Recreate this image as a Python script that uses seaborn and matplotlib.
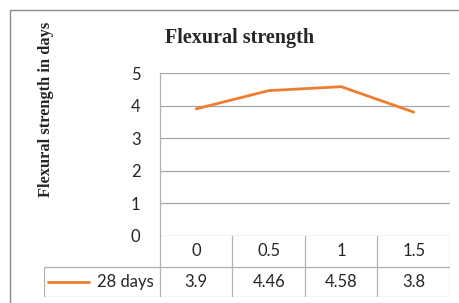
import numpy as np
import pandas as pd
import matplotlib
matplotlib.use("Agg")
import matplotlib.pyplot as plt
from matplotlib.lines import Line2D
import seaborn as sns

# ---- dados ----
categories = ["0", "0.5", "1", "1.5"]
strength_28 = [3.9, 4.46, 4.58, 3.8]
series_name = "28 days"
y_ticks = [0, 1, 2, 3, 4, 5]
chart_title = "Flexural strength"
y_label = "Flexural strength in days"

ORANGE = "#ED7D31"
GRID = "#A6A6A6"
TABLE = "#B0B0B0"
FRAME = "#8C8C8C"
TEXT_FONT = ["Lato", "DejaVu Sans"]
SERIF_FONT = ["Liberation Serif", "DejaVu Serif"]

sns.set_style("white")
plt.rcParams["font.family"] = TEXT_FONT

W, H = 460, 303
fig = plt.figure(figsize=(W / 100, H / 100), dpi=100)


def px_box(left, top, right, bottom):
    # pixel box -> fraçoes da figura
    return [left / W, 1 - bottom / H, (right - left) / W, (bottom - top) / H]


# ---- grafico principal ----
ax = fig.add_axes(px_box(160, 73, 450, 236))
df = pd.DataFrame({"pos": np.arange(len(categories)), "val": strength_28})
sns.lineplot(data=df, x="pos", y="val", ax=ax, color=ORANGE, linewidth=2.0)
ax.set_xlim(-0.5, len(categories) - 0.5)
ax.set_ylim(min(y_ticks), max(y_ticks))
ax.set_yticks(y_ticks)
ax.set_yticklabels([str(t) for t in y_ticks], fontsize=12)
ax.set_xticks([])
ax.set_xlabel("")
ax.set_ylabel("")
ax.tick_params(axis="y", length=0, pad=14)
for t in y_ticks:
    ax.axhline(t, color=GRID, linewidth=0.9, zorder=0)
for side in ["top", "right", "bottom"]:
    ax.spines[side].set_visible(False)
ax.spines["left"].set_color(TABLE)
ax.spines["left"].set_linewidth(0.9)

# ---- tabela de dados ----
col_w = 290 / len(categories)
x0 = -0.5 - 116 / col_w
tab = fig.add_axes(px_box(44, 236, 450, 297))
tab.set_xlim(x0, len(categories) - 0.5)
tab.set_ylim(0, 2)
tab.axis("off")
right = len(categories) - 0.5
tab.plot([x0, right], [1, 1], color=TABLE, lw=0.9)
tab.plot([x0, right], [0, 0], color=TABLE, lw=0.9)
tab.plot([x0, x0], [0, 1], color=TABLE, lw=0.9)
for i in range(len(categories) + 1):
    tab.plot([i - 0.5, i - 0.5], [0, 2], color=TABLE, lw=0.9)
for i, (c, v) in enumerate(zip(categories, strength_28)):
    tab.text(i, 1.5, c, ha="center", va="center", fontsize=12)
    tab.text(i, 0.5, f"{v:g}", ha="center", va="center", fontsize=12)
# legenda dentro da tabela
tab.plot([x0 + 0.06, x0 + 0.62], [0.5, 0.5], color=ORANGE, lw=2.0)
tab.text(-0.58, 0.5, series_name, ha="right", va="center", fontsize=12)

# ---- titulo e rotulo ----
fig.text(240 / W, 1 - 38 / H, chart_title, ha="center", va="center",
         fontsize=14.5, fontweight="bold", family=SERIF_FONT)
fig.text(46 / W, 1 - 109 / H, y_label, ha="center", va="center", rotation=90,
         fontsize=11.8, fontweight="bold", family=SERIF_FONT)

# ---- moldura externa ----
fig.add_artist(Line2D([10 / W, 1], [1 - 10 / H, 1 - 10 / H], color=FRAME, lw=1.0))
fig.add_artist(Line2D([10 / W, 10 / W], [0, 1 - 10 / H], color=FRAME, lw=1.0))

fig.savefig("out.png", dpi=100)
